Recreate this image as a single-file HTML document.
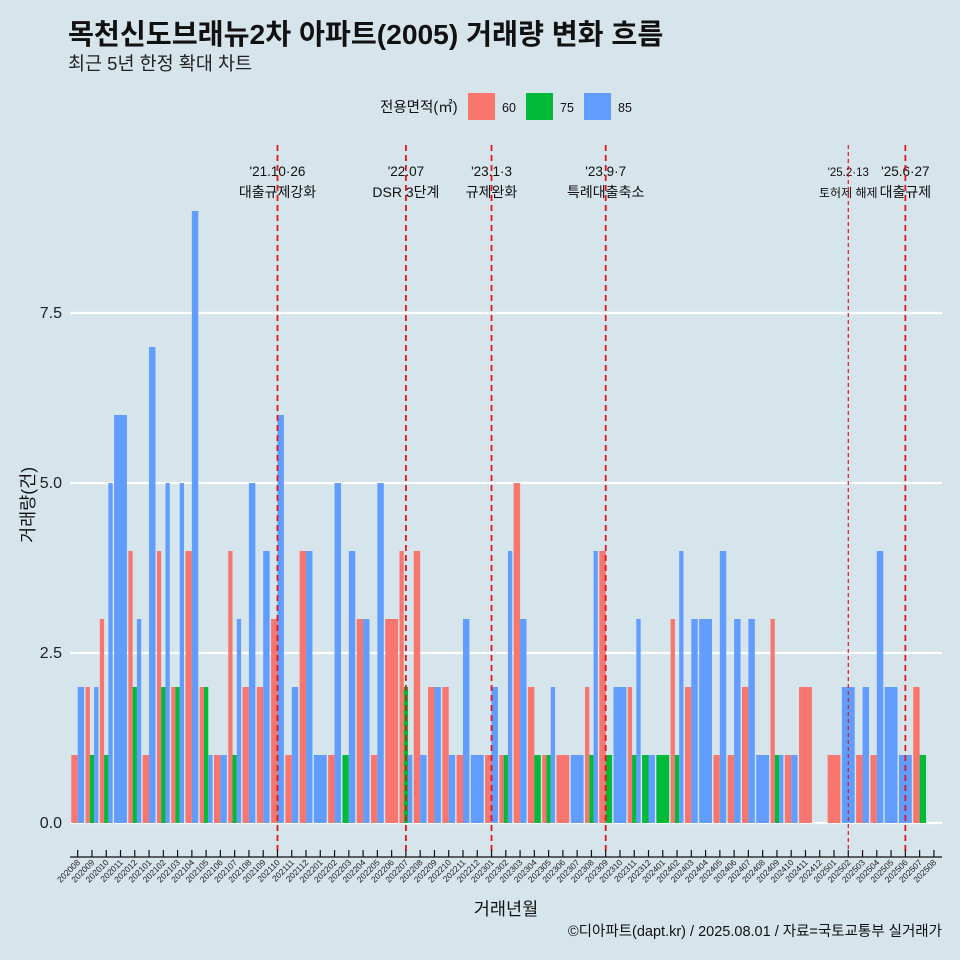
<!DOCTYPE html>
<html><head><meta charset="utf-8"><style>
body{margin:0;background:#d6e4eb;}
svg{display:block;font-family:"Liberation Sans","Noto Sans CJK KR",sans-serif;}
</style></head><body>
<svg id="chart" width="960" height="960" viewBox="0 0 960 960">
<rect width="960" height="960" fill="#d6e4eb"/>
<text x="68" y="44" font-size="28.2" font-weight="bold" fill="#111">목천신도브래뉴2차 아파트(2005) 거래량 변화 흐름</text>
<text x="68" y="70" font-size="18.5" fill="#222">최근 5년 한정 확대 차트</text>
<g>
<text x="380" y="112" font-size="14.5" fill="#111">전용면적(㎡)</text>
<rect x="468" y="93" width="27" height="27" fill="#F8766D"/>
<text x="502" y="112" font-size="12.5" fill="#111">60</text>
<rect x="526" y="93" width="27" height="27" fill="#00BA38"/>
<text x="560" y="112" font-size="12.5" fill="#111">75</text>
<rect x="584" y="93" width="27" height="27" fill="#619CFF"/>
<text x="618" y="112" font-size="12.5" fill="#111">85</text>
</g>
<g id="grid"></g><g id="bars"></g><g id="events"></g><g id="axes"></g>
<text x="506" y="915" font-size="17.5" text-anchor="middle" fill="#111">거래년월</text>
<text transform="translate(34,505) rotate(-90)" font-size="17.5" text-anchor="middle" fill="#111">거래량(건)</text>
<text x="942" y="936" font-size="14.5" text-anchor="end" fill="#111">©디아파트(dapt.kr) / 2025.08.01 / 자료=국토교통부 실거래가</text>
</svg>
<script>
const months=["202008","202009","202010","202011","202012","202101","202102","202103","202104","202105","202106","202107","202108","202109","202110","202111","202112","202201","202202","202203","202204","202205","202206","202207","202208","202209","202210","202211","202212","202301","202302","202303","202304","202305","202306","202307","202308","202309","202310","202311","202312","202401","202402","202403","202404","202405","202406","202407","202408","202409","202410","202411","202412","202501","202502","202503","202504","202505","202506","202507","202508"];
const s60=[1,2,3,0,4,1,4,2,4,2,1,4,2,2,3,1,4,0,1,0,3,1,3,4,4,2,2,1,0,1,1,5,2,1,1,0,2,4,0,2,0,0,3,2,0,1,1,2,0,3,1,2,0,1,0,1,1,0,0,2,0];
const s75=[0,1,1,0,2,0,2,2,0,2,0,1,0,0,0,0,0,0,0,1,0,0,0,2,0,0,0,0,0,0,1,0,1,1,0,0,1,1,0,1,1,1,1,0,0,0,0,0,0,1,0,0,0,0,0,0,0,0,0,1,0];
const s85=[2,2,5,6,3,7,5,5,9,1,1,3,5,4,6,2,4,1,5,4,3,5,0,1,1,2,1,3,1,2,4,3,0,2,0,1,4,0,2,3,1,0,4,3,3,4,3,3,1,1,1,0,0,0,2,2,4,2,1,0,0];
const yTicks=[0,2.5,5,7.5];
const yTickLabels=["0.0","2.5","5.0","7.5"];
const eventMonths=["202110","202207","202301","202309","202502","202506"];
const eventDates=["'21.10·26","'22.07","'23.1·3","'23.9·7","'25.2·13","'25.6·27"];
const eventTexts=["대출규제강화","DSR 3단계","규제완화","특례대출축소","토허제 해제","대출규제"];
const colors=["#F8766D","#00BA38","#619CFF"];
const NS="http://www.w3.org/2000/svg";
const x0=77.7,step=14.27,yBase=823,yPer=68;
const xS=i=>x0+i*step, yS=v=>yBase-v*yPer;
function mk(t,a,p){const e=document.createElementNS(NS,t);for(const k in a)e.setAttribute(k,a[k]);p.appendChild(e);return e;}
const grid=document.getElementById('grid'),bars=document.getElementById('bars'),ev=document.getElementById('events'),ax=document.getElementById('axes');
yTicks.forEach((t,i)=>{
 const l=mk('line',{x1:70,x2:942,y1:yS(t),y2:yS(t),stroke:'#fff','stroke-width':2.2},grid);
 
 
 const tx=mk('text',{x:62,y:yS(t)+5,'font-size':16,'text-anchor':'end',fill:'#222'},ax);
 tx.textContent=yTickLabels[i];
 
 
});
const series=[s60,s75,s85],names=['60','75','85'];
months.forEach((m,i)=>{
 const present=[0,1,2].filter(g=>series[g][i]>0);
 const slot=12.84,w=present.length?slot/present.length:0;
 present.forEach((g,j)=>{
  const v=series[g][i];
  const r=mk('rect',{x:xS(i)-slot/2+j*w,y:yS(v),width:w,height:v*yPer,fill:colors[g]},bars);
  
  
 });
});
const al=mk('line',{x1:70,x2:942,y1:857,y2:857,stroke:'#111','stroke-width':1.2},ax);


months.forEach((m,i)=>{
 const t=mk('line',{x1:xS(i),x2:xS(i),y1:850,y2:857,stroke:'#111','stroke-width':1.2},ax);
 
 
 const tx=mk('text',{'font-size':8.5,'text-anchor':'end',fill:'#222',transform:`translate(${xS(i)+3},${863}) rotate(-45)`},ax);
 tx.textContent=m;
 
 
});
eventMonths.forEach((m,k)=>{
 const i=months.indexOf(m),x=xS(i),small=(m==="202502");
 const fs=small?12:14;
 const d=mk('text',{x:x,y:176,'font-size':small?11.5:13.5,'text-anchor':'middle',fill:'#111'},ev);
 d.textContent=eventDates[k];
 
 
 const t=mk('text',{x:x,y:197,'font-size':fs,'text-anchor':'middle',fill:'#111'},ev);
 t.textContent=eventTexts[k];
 
 
 const l=mk('line',{x1:x,x2:x,y1:145,y2:852,stroke:'#e8141c','stroke-width':small?1.2:1.8,'stroke-dasharray':small?'4,3':'6,4'},ev);
 
 
});
</script>
</body></html>
